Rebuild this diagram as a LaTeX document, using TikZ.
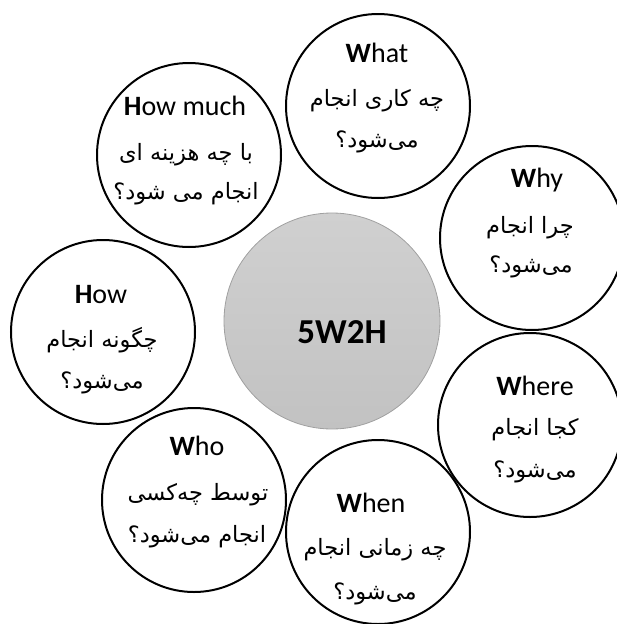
\documentclass[tikz,border=0pt]{standalone}
\usepackage{fontspec}
\setmainfont{Carlito}
\newfontfamily\fa[Script=Arabic]{DejaVu Sans}
\TeXXeTstate=1
\definecolor{hubtop}{RGB}{208,208,208}
\definecolor{hubbot}{RGB}{194,194,194}
\definecolor{hubedge}{RGB}{160,160,160}
\begin{document}
\begin{tikzpicture}[x=1pt,y=-1pt,
  ring/.style={circle,draw=black,line width=2pt,minimum size=184pt,inner sep=0pt},
  hub/.style={circle,draw=hubedge,line width=0.8pt,minimum size=216pt,inner sep=0pt,
    top color=hubtop,bottom color=hubbot},
  head/.style={font=\fontsize{28}{30}\selectfont,anchor=base,inner sep=0pt},
  fatext/.style={font=\fa\fontsize{22.5}{24}\selectfont,anchor=base,inner sep=0pt},
  hubtext/.style={font=\bfseries\fontsize{35}{38}\selectfont,anchor=base,inner sep=0pt}]
\useasboundingbox (0,0) rectangle (616,624);

% central hub
\node[hub] (hub) at (332,321) {};
\node[hubtext] (hubT) at (342,343) {5W2H};

% the seven question circles
\node[ring] (what)    at (378,106) {};
\node[ring] (howmuch) at (189,155) {};
\node[ring] (why)     at (532,238) {};
\node[ring] (how)     at (103,332) {};
\node[ring] (where)   at (530,425) {};
\node[ring] (who)     at (194,500) {};
\node[ring] (when)    at (378,532) {};

% What
\node[head]   (whatT) at (377,62)  {\textbf{W}hat};
\node[fatext] (what1) at (377,106) {\beginR چه کاری انجام\endR};
\node[fatext] (what2) at (377,147) {\beginR می‌شود؟\endR};

% How much
\node[head]   (howmuchT) at (185,115) {\textbf{H}ow much};
\node[fatext] (howmuch1) at (186,160) {\beginR با چه هزینه ای\endR};
\node[fatext] (howmuch2) at (186,199) {\beginR انجام می شود؟\endR};

% Why
\node[head]   (whyT) at (537,187) {\textbf{W}hy};
\node[fatext] (why1) at (530,233) {\beginR چرا انجام\endR};
\node[fatext] (why2) at (531,272) {\beginR می‌شود؟\endR};

% How
\node[head]   (howT) at (101,303) {\textbf{H}ow};
\node[fatext] (how1) at (102,347) {\beginR چگونه انجام\endR};
\node[fatext] (how2) at (102,388) {\beginR می‌شود؟\endR};

% Where
\node[head]   (whereT) at (535,395) {\textbf{W}here};
\node[fatext] (where1) at (535,435) {\beginR کجا انجام\endR};
\node[fatext] (where2) at (535,477) {\beginR می‌شود؟\endR};

% Who
\node[head]   (whoT) at (197,455) {\textbf{W}ho};
\node[fatext] (who1) at (198,500) {\beginR توسط چه‌کسی\endR};
\node[fatext] (who2) at (197,542) {\beginR انجام می‌شود؟\endR};

% When
\node[head]   (whenT) at (371,512) {\textbf{W}hen};
\node[fatext] (when1) at (375,555) {\beginR چه زمانی انجام\endR};
\node[fatext] (when2) at (375,599) {\beginR می‌شود؟\endR};
\end{tikzpicture}
\end{document}
